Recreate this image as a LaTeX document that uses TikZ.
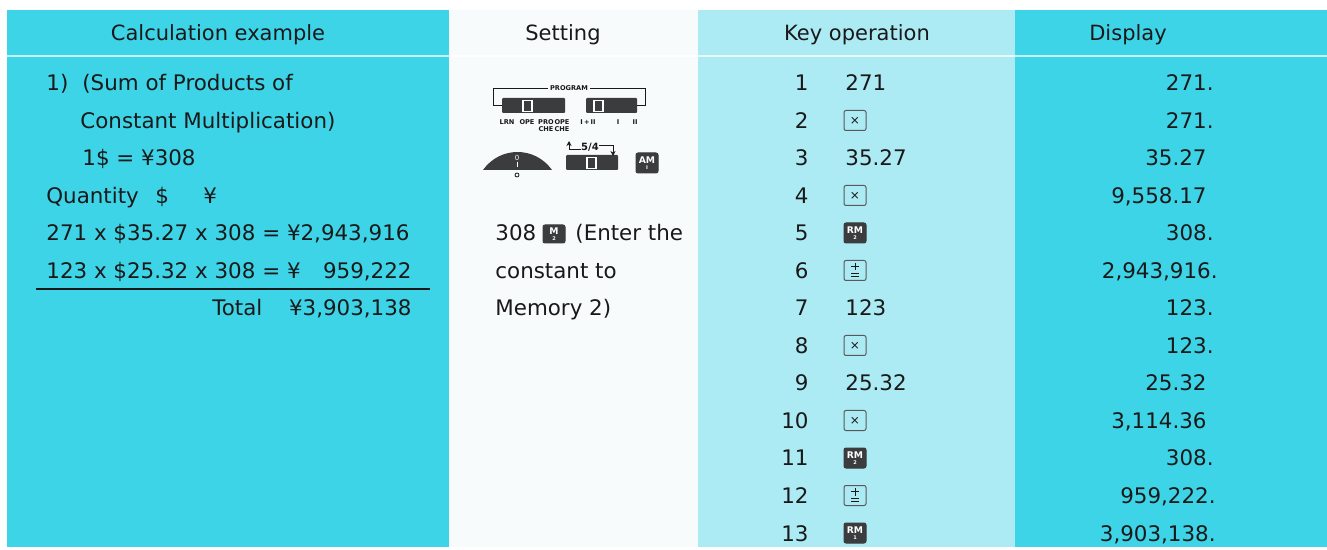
\documentclass[tikz,border=0pt]{standalone}
\usepackage{fontspec}
\setmainfont{DejaVu Sans}
\usetikzlibrary{arrows.meta}

\definecolor{calccyan}{RGB}{62,212,231}
\definecolor{keycyan}{RGB}{172,235,243}
\definecolor{setbg}{RGB}{247,251,252}
\definecolor{keydark}{RGB}{58,60,62}
\definecolor{inkgray}{RGB}{25,25,25}

\tikzset{
    txt/.style={inner sep=0pt, anchor=base west, text=inkgray, font=\fontsize{10.7}{13}\selectfont},
    txtr/.style={txt, anchor=base east},
    head/.style={inner sep=0pt, text=inkgray, font=\fontsize{10.5}{13}\selectfont},
    keybox/.style={draw=keydark!85, line width=0.5pt, rounded corners=1pt, minimum width=11pt,
        minimum height=10pt, inner sep=0pt, text=inkgray, align=center, font=\fontsize{6}{6}\selectfont},
    darkkey/.style={keybox, fill=keydark, draw=keydark, text=white, font=\fontsize{4.6}{3.4}\selectfont\bfseries},
    tinylabel/.style={inner sep=0pt, text=inkgray, align=center, font=\fontsize{3.3}{3.5}\selectfont\bfseries},
    switchbar/.style={fill=keydark, rounded corners=0.5pt, inner sep=0pt},
    slot/.style={draw=white, line width=0.6pt, fill=keydark, inner sep=0pt, minimum width=4.5pt, minimum height=5.2pt},
    keystroke/.style={draw=inkgray, line width=0.45pt},
}

\begin{document}
\begin{tikzpicture}[x=0.5pt,y=-0.5pt,>=Stealth]
    \useasboundingbox (0,0) rectangle (1327,550);

    % column backgrounds
    \fill[calccyan] (7,10) rectangle (449,547);
    \fill[setbg] (449,10) rectangle (698,547);
    \fill[keycyan] (698,10) rectangle (1015,547);
    \fill[calccyan] (1015,10) rectangle (1327,547);
    \draw[white, opacity=0.7, line width=1pt] (7,56) -- (1327,56);

    % headers
    \node[head] (hcalc) at (218,35) {Calculation example};
    \node[head] (hset) at (563,35) {Setting};
    \node[head] (hkey) at (857,35) {Key operation};
    \node[head] (hdisp) at (1128,35) {Display};

    % calculation example
    \node[txt] (calc1a) at (46,91) {1)};
    \node[txt] (calc1b) at (82,91) {(Sum of Products of};
    \node[txt] (calc2) at (80,128.5) {Constant Multiplication)};
    \node[txt] (calc3) at (82,166) {1\$ = ¥308};
    \node[txt] (calc4) at (46,203.5) {Quantity};
    \node[txt] (calc4d) at (155,203.5) {\$};
    \node[txt] (calc4y) at (203,203.5) {¥};
    \node[txt] (calc5) at (46,241) {271 x \$35.27 x 308 = ¥2,943,916};
    \node[txt] (calc6) at (46,278.5) {123 x \$25.32 x 308 = ¥};
    \node[txtr] (calc6v) at (412,278.5) {959,222};
    \draw[inkgray, line width=0.7pt] (36,289) -- (430,289);
    \node[txt] (total) at (212,316) {Total};
    \node[txtr] (totalv) at (412,316) {¥3,903,138};

    % setting: program switches
    \node[switchbar, minimum width=31.5pt, minimum height=7.5pt] (sw1) at (533.5,105.5) {};
    \node[slot] (slot1) at (527.5,106) {};
    \node[switchbar, minimum width=25.5pt, minimum height=7.5pt] (sw2) at (611.5,105.5) {};
    \node[slot] (slot2) at (598.5,106) {};
    \coordinate (progl) at (493,88);
    \coordinate (progr) at (645,88);
    \draw[inkgray, line width=0.4pt] (sw1.west) -| (progl) -- (progr) |- (sw2.east);
    \node[tinylabel, fill=setbg, inner xsep=1pt] (prog) at (569,88) {PROGRAM};
    \foreach \x/\lab in {507/LRN, 527/OPE, 546/PRO\\CHE, 562/OPE\\CHE, 588/I\,+\,II, 618/I, 635/II}
        \node[tinylabel, anchor=north] (lab\x) at (\x,119) {\lab};

    % setting: dial, 5/4 switch and AM key
    \fill[keydark] (483,170) .. controls (500,146) and (535,146) .. (552,170) -- cycle;
    \node[inner sep=0pt, text=white, font=\fontsize{3.5}{4}\selectfont] (dial0) at (517,158) {0};
    \draw[white, line width=0.4pt] (517,162) -- (517,167);
    \draw[inkgray, line width=0.4pt] (517,175) circle (2);
    \node[switchbar, minimum width=26pt, minimum height=7.5pt] (sw54) at (592,162.5) {};
    \node[slot] (slot54) at (591.5,163) {};
    \node[inner sep=0pt, text=inkgray, font=\fontsize{5}{5}\selectfont\bfseries] (f54) at (590,147) {5/4};
    \coordinate (upend) at (569,141);
    \coordinate (downend) at (613,156);
    \draw[->, inkgray, line width=0.5pt, >={Stealth[length=2.5pt,width=2.5pt]}] (f54.west |- 0,150) -| (upend);
    \draw[->, inkgray, line width=0.5pt, >={Stealth[length=2.5pt,width=2.5pt]}] (f54.east |- 0,146) -| (downend);
    \node[darkkey] (amkey) at (647,163) {AM\\[-0.3pt]{\fontsize{2.5}{2.5}\selectfont I}};

    % setting: memory entry
    \node[txt] (set308) at (495,241) {308};
    \node[darkkey, minimum height=9pt] (mkey) at (554,234) {M\\[-0.3pt]{\fontsize{2.5}{2.5}\selectfont 2}};
    \node[txt] (setenter) at (575,241) {(Enter the};
    \node[txt] (setconst) at (495,278.5) {constant to};
    \node[txt] (setmem) at (495,316) {Memory 2)};

    % key operation: step numbers
    \foreach \n in {1,...,13}
        \node[txtr] (num\n) at (809,{91+37.5*(\n-1)}) {\n};

    % key operation: numbers and keys
    \foreach \n/\k in {1/271, 3/35.27, 7/123, 9/25.32}
        \node[txt] (op\n) at (845,{91+37.5*(\n-1)}) {\k};
    \foreach \n in {2,4,8,10}
        \node[keybox] (op\n) at (855,{83+37.5*(\n-1)}) {×};
    \foreach \n in {6,12} {
        \node[keybox] (op\n) at (855,{83+37.5*(\n-1)}) {};
        % plus over equals
        \draw[keystroke] (op\n.center) ++(-2pt,1.9pt) -- ++(4pt,0pt);
        \draw[keystroke] (op\n.center) ++(0pt,3.8pt) -- ++(0pt,-3.8pt);
        \draw[keystroke] (op\n.center) ++(-2pt,-1.3pt) -- ++(4pt,0pt);
        \draw[keystroke] (op\n.center) ++(-2pt,-2.8pt) -- ++(4pt,0pt);
    }
    \foreach \n/\s in {5/2, 11/2, 13/1}
        \node[darkkey] (op\n) at (855,{83+37.5*(\n-1)}) {RM\\[-0.3pt]{\fontsize{2.5}{2.5}\selectfont \s}};

    % display
    \foreach \n/\v/\x in {
        1/271./1214, 2/271./1214, 3/35.27/1207, 4/{9,558.17}/1207,
        5/308./1214, 6/{2,943,916.}/1218, 7/123./1214, 8/123./1214,
        9/25.32/1207, 10/{3,114.36}/1207, 11/308./1214, 12/{959,222.}/1216,
        13/{3,903,138.}/1216}
        \node[txtr] (disp\n) at (\x,{91+37.5*(\n-1)}) {\v};
\end{tikzpicture}
\end{document}
